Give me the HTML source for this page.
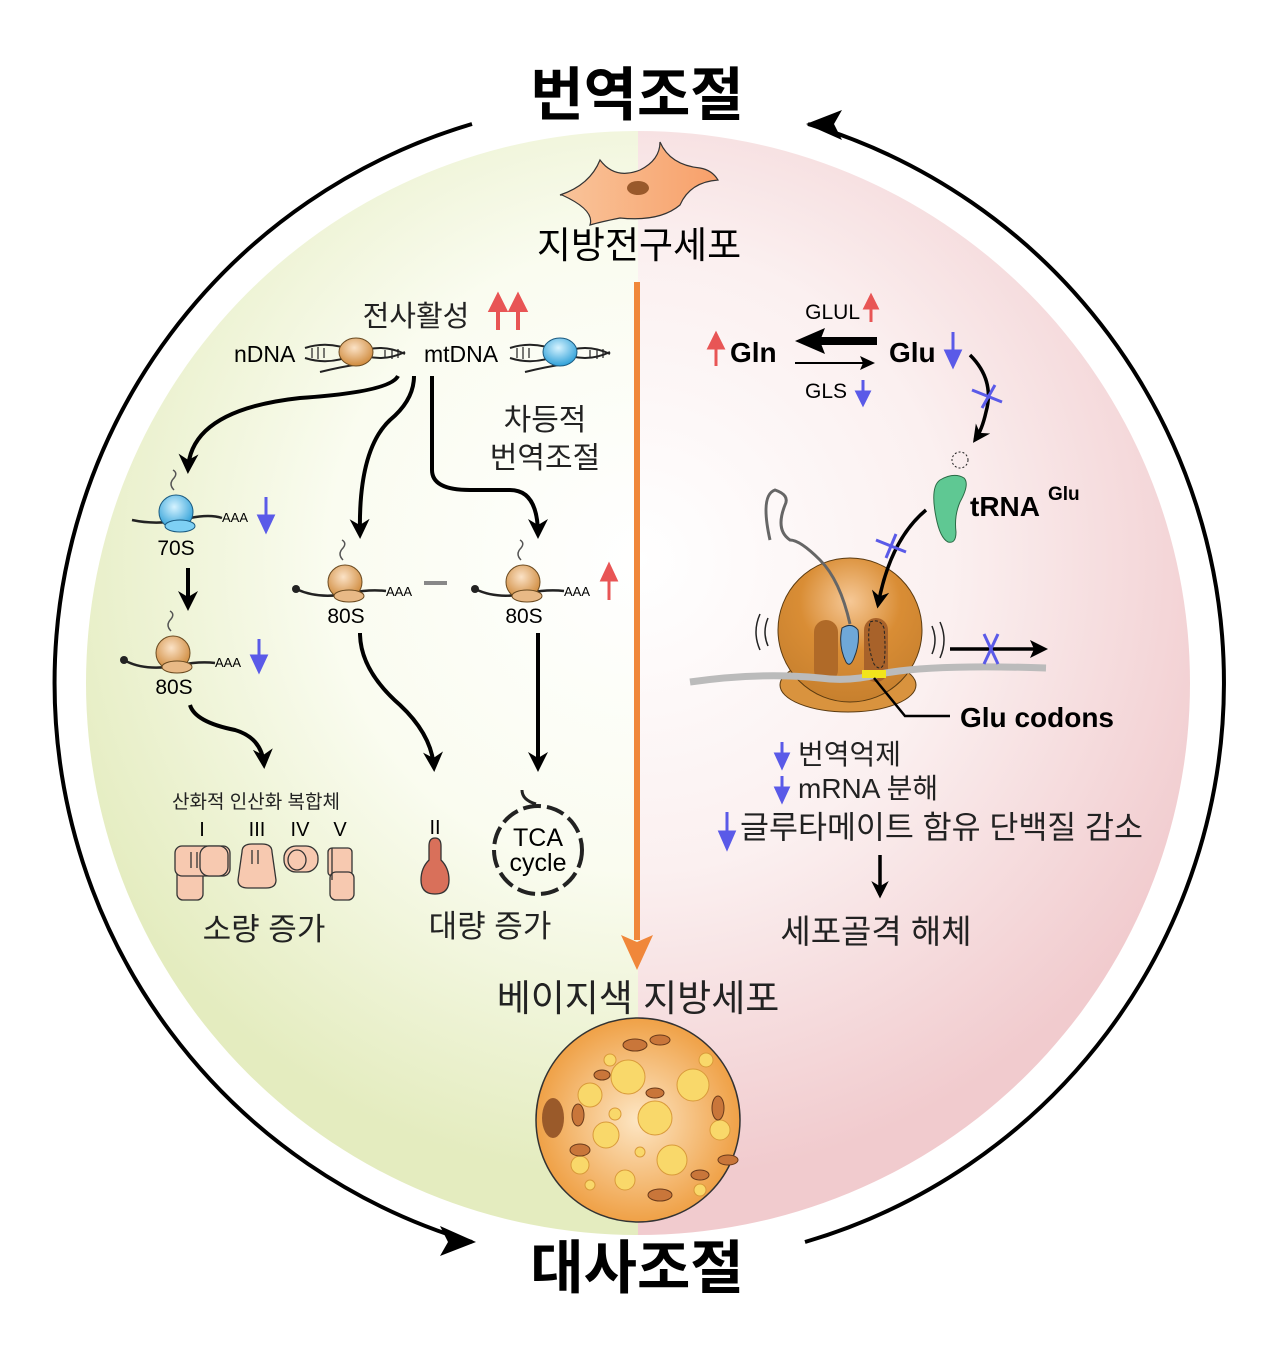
<!DOCTYPE html>
<html><head><meta charset="utf-8"><style>
html,body{margin:0;padding:0;background:#fff;}
svg{display:block;}
text{font-family:"Liberation Sans","Noto Sans CJK KR",sans-serif;}
</style></head><body>
<svg width="1274" height="1367" viewBox="0 0 1274 1367" xmlns="http://www.w3.org/2000/svg">
<defs>
<radialGradient id="gL" cx="640" cy="560" r="620" gradientUnits="userSpaceOnUse">
<stop offset="0" stop-color="#ffffff"/><stop offset="0.5" stop-color="#fafcf0"/><stop offset="1" stop-color="#e4ecbf"/></radialGradient>
<radialGradient id="gR" cx="640" cy="560" r="620" gradientUnits="userSpaceOnUse">
<stop offset="0" stop-color="#ffffff"/><stop offset="0.5" stop-color="#fbf0f0"/><stop offset="1" stop-color="#f1cbce"/></radialGradient>
<radialGradient id="rOr" cx="0.45" cy="0.35" r="0.65"><stop offset="0" stop-color="#fbe2c6"/><stop offset="1" stop-color="#cf8a3c"/></radialGradient>
<radialGradient id="rBl" cx="0.45" cy="0.35" r="0.65"><stop offset="0" stop-color="#d6f3ff"/><stop offset="1" stop-color="#2ea0d8"/></radialGradient>
<radialGradient id="bigR" cx="0.5" cy="0.3" r="0.7"><stop offset="0" stop-color="#f6c896"/><stop offset="0.5" stop-color="#d98d35"/><stop offset="1" stop-color="#c7802e"/></radialGradient>
<radialGradient id="fat" cx="0.5" cy="0.5" r="0.55"><stop offset="0" stop-color="#fde6c4"/><stop offset="1" stop-color="#ee9a3a"/></radialGradient>
<linearGradient id="cell" x1="0" y1="0" x2="1" y2="0"><stop offset="0" stop-color="#f9c49a"/><stop offset="1" stop-color="#f8a06a"/></linearGradient>
<marker id="ah" viewBox="0 0 10 10" refX="8" refY="5" markerWidth="5" markerHeight="5" orient="auto"><path d="M0,0 L10,5 L0,10 L3,5 z" fill="#000"/></marker>
<g id="ribo">
<path d="M-2,-22 q-6,-6 0,-12 q4,-5 -1,-8" stroke="#555" stroke-width="1.5" fill="none"/>
<circle cx="0" cy="0" r="17" fill="url(#rOr)" stroke="#6a4a20" stroke-width="1"/>
<ellipse cx="4" cy="14" rx="15" ry="6" fill="#e8b986" stroke="#6a4a20" stroke-width="1"/>
</g>
<g id="riboB">
<path d="M-2,-22 q-6,-6 0,-12 q4,-5 -1,-8" stroke="#555" stroke-width="1.5" fill="none"/>
<circle cx="0" cy="0" r="17" fill="url(#rBl)" stroke="#1a5a80" stroke-width="1"/>
<ellipse cx="4" cy="14" rx="15" ry="6" fill="#7ed0f4" stroke="#1a5a80" stroke-width="1"/>
</g>
</defs>

<path d="M638,131 A552,552 0 0 0 638,1235 Z" fill="url(#gL)"/>
<path d="M638,131 A552,552 0 0 1 638,1235 Z" fill="url(#gR)"/>

<path d="M472,124 A583,583 0 0 0 472,1242" stroke="#000" stroke-width="4" fill="none"/>
<path d="M440,1226 L476,1242 L440,1256 L448,1242 z" fill="#000"/>
<path d="M805,1242 A583,583 0 0 0 808,124" stroke="#000" stroke-width="4" fill="none"/>
<path d="M842,110 L806,124 L842,140 L834,124 z" fill="#000"/>

<text x="637" y="115" font-size="58" font-weight="bold" text-anchor="middle">번역조절</text>
<text x="637" y="1288" font-size="58" font-weight="bold" text-anchor="middle">대사조절</text>

<path d="M560,195 Q590,185 600,160 Q615,180 640,170 Q660,160 660,142 Q670,165 700,168 Q712,170 718,180 Q690,182 680,205 Q660,222 620,218 Q600,222 590,225 Q595,210 562,195 z" fill="url(#cell)" stroke="#333" stroke-width="1.2"/>
<ellipse cx="638" cy="188" rx="11" ry="7" fill="#99592b"/>
<text x="639" y="258" font-size="37" text-anchor="middle">지방전구세포</text>

<line x1="637" y1="282" x2="637" y2="940" stroke="#f0873a" stroke-width="6"/>
<path d="M621,935 L637,970 L653,935 L637,942 z" fill="#f0873a"/>

<text x="416" y="326" font-size="29" text-anchor="middle" fill="#222">전사활성</text>
<g stroke="#e85555" stroke-width="4" fill="#e85555">
<line x1="498" y1="330" x2="498" y2="308"/><path d="M491,310 L498,296 L505,310 z"/>
<line x1="518" y1="330" x2="518" y2="308"/><path d="M511,310 L518,296 L525,310 z"/>
</g>
<text x="234" y="362" font-size="23">nDNA</text>
<text x="424" y="362" font-size="23">mtDNA</text>
<g stroke="#222" stroke-width="2" fill="none">
<path d="M305,348 q25,-8 50,4 q25,12 50,0"/><path d="M305,358 q25,8 50,-4 q25,-12 50,0"/>
<path d="M510,348 q25,-8 50,4 q25,12 50,0"/><path d="M510,358 q25,8 50,-4 q25,-12 50,0"/>
<path d="M320,372 q20,-5 40,-8"/><path d="M525,372 q20,-5 40,-8"/>
</g>
<g stroke="#222" stroke-width="1.2"><path d="M312,348 v10 M318,347 v12 M324,348 v10 M385,350 v8 M392,349 v10 M398,349 v9 M517,348 v10 M523,347 v12 M529,348 v10 M590,350 v8 M597,349 v10 M603,349 v9"/></g>
<ellipse cx="356" cy="352" rx="17" ry="14" fill="url(#rOr)" stroke="#6a4a20"/>
<ellipse cx="560" cy="352" rx="17" ry="14" fill="url(#rBl)" stroke="#1a5a80"/>

<g stroke="#000" stroke-width="4" fill="none">
<path d="M398,376 Q390,392 300,398 Q190,410 188,470" marker-end="url(#ah)"/>
<path d="M414,376 Q414,400 390,420 Q358,450 360,535" marker-end="url(#ah)"/>
<path d="M432,376 L432,470 Q432,490 470,490 L510,490 Q538,490 538,535" marker-end="url(#ah)"/>
<path d="M188,568 L188,607" marker-end="url(#ah)"/>
<path d="M190,705 Q195,722 235,730 Q262,738 264,765" marker-end="url(#ah)"/>
<path d="M360,633 Q360,670 400,705 Q432,735 434,768" marker-end="url(#ah)"/>
<path d="M538,633 L538,768" marker-end="url(#ah)"/>
</g>

<text x="545" y="430" font-size="30" text-anchor="middle" fill="#222">차등적</text>
<text x="545" y="468" font-size="30" text-anchor="middle" fill="#222">번역조절</text>

<path d="M132,520 Q160,526 190,518 Q210,514 222,518" stroke="#222" stroke-width="2.5" fill="none"/>
<use href="#riboB" x="176" y="512"/>
<text x="222" y="522" font-size="13">AAA</text>
<text x="176" y="555" font-size="21" text-anchor="middle">70S</text>
<g fill="#5a5ae8" stroke="#5a5ae8" stroke-width="3"><line x1="266" y1="497" x2="266" y2="520"/><path d="M259,516 L266,531 L273,516 z"/></g>

<circle cx="124" cy="660" r="4" fill="#222"/>
<path d="M124,660 Q145,672 180,665 Q200,661 215,663" stroke="#222" stroke-width="2.5" fill="none"/>
<use href="#ribo" x="173" y="653"/>
<text x="215" y="667" font-size="13">AAA</text>
<text x="174" y="694" font-size="21" text-anchor="middle">80S</text>
<g fill="#5a5ae8" stroke="#5a5ae8" stroke-width="3"><line x1="259" y1="639" x2="259" y2="660"/><path d="M252,656 L259,671 L266,656 z"/></g>

<circle cx="296" cy="589" r="4" fill="#222"/>
<path d="M296,589 Q320,600 350,593 Q370,589 386,591" stroke="#222" stroke-width="2.5" fill="none"/>
<use href="#ribo" x="345" y="582"/>
<text x="386" y="596" font-size="13">AAA</text>
<text x="346" y="623" font-size="21" text-anchor="middle">80S</text>
<line x1="424" y1="583" x2="447" y2="583" stroke="#888" stroke-width="4"/>

<circle cx="475" cy="589" r="4" fill="#222"/>
<path d="M475,589 Q498,600 528,593 Q548,589 564,591" stroke="#222" stroke-width="2.5" fill="none"/>
<use href="#ribo" x="523" y="582"/>
<text x="564" y="596" font-size="13">AAA</text>
<text x="524" y="623" font-size="21" text-anchor="middle">80S</text>
<g fill="#e85555" stroke="#e85555" stroke-width="3"><line x1="609" y1="600" x2="609" y2="577"/><path d="M602,580 L609,565 L616,580 z"/></g>

<text x="256" y="808" font-size="19" text-anchor="middle" fill="#222">산화적 인산화 복합체</text>
<text x="202" y="836" font-size="20" text-anchor="middle">I</text>
<text x="257" y="836" font-size="20" text-anchor="middle">III</text>
<text x="300" y="836" font-size="20" text-anchor="middle">IV</text>
<text x="340" y="836" font-size="20" text-anchor="middle">V</text>
<g fill="#f7c9b0" stroke="#333" stroke-width="1.3">
<rect x="177" y="865" width="26" height="35" rx="6"/>
<rect x="175" y="846" width="55" height="30" rx="7"/>
<rect x="200" y="846" width="28" height="30" rx="9"/>
<path d="M242,852 q0,-8 10,-8 h10 q10,0 10,8 l4,28 q0,8 -10,8 h-18 q-10,0 -10,-8 z"/>
<rect x="284" y="846" width="34" height="26" rx="12"/>
<ellipse cx="297" cy="860" rx="9" ry="10" fill="none"/>
<rect x="328" y="848" width="24" height="28" rx="4"/>
<rect x="330" y="872" width="24" height="28" rx="6"/>
<path d="M191,852 v16 M197,852 v16 M252,850 v14 M258,850 v14 M332,848 v32"/>
</g>
<path d="M429,846 q0,-8 6,-8 q6,0 6,8 v14 q8,8 8,20 q0,14 -14,14 q-14,0 -14,-14 q0,-12 8,-20 z" fill="#d9705a" stroke="#333" stroke-width="1.3"/>
<text x="435" y="834" font-size="20" text-anchor="middle">II</text>
<circle cx="538" cy="850" r="44" fill="none" stroke="#222" stroke-width="4" stroke-dasharray="18 6"/>
<path d="M522,790 q0,10 14,14" stroke="#222" stroke-width="3" fill="none"/>
<text x="538" y="846" font-size="25" text-anchor="middle">TCA</text>
<text x="538" y="871" font-size="25" text-anchor="middle">cycle</text>
<text x="264" y="940" font-size="31" text-anchor="middle" fill="#222">소량 증가</text>
<text x="490" y="937" font-size="31" text-anchor="middle" fill="#222">대량 증가</text>

<!-- right -->
<text x="860" y="319" font-size="21" text-anchor="end">GLUL</text>
<g fill="#e85555" stroke="#e85555" stroke-width="3"><line x1="871" y1="322" x2="871" y2="305"/><path d="M865,308 L871,296 L877,308 z"/></g>
<g fill="#e85555" stroke="#e85555" stroke-width="3"><line x1="716" y1="366" x2="716" y2="345"/><path d="M709,348 L716,334 L723,348 z"/></g>
<text x="730" y="362" font-size="28" font-weight="bold">Gln</text>
<text x="889" y="362" font-size="28" font-weight="bold">Glu</text>
<g fill="#5a5ae8" stroke="#5a5ae8" stroke-width="3"><line x1="953" y1="332" x2="953" y2="355"/><path d="M946,351 L953,366 L960,351 z"/></g>
<rect x="815" y="337" width="62" height="8" fill="#000"/><path d="M795,341 L825,328 L820,341 L825,354 z" fill="#000"/>
<line x1="795" y1="363" x2="870" y2="363" stroke="#000" stroke-width="2"/><path d="M875,363 L860,356 L863,363 L860,370 z" fill="#000"/>
<text x="826" y="398" font-size="21" text-anchor="middle">GLS</text>
<g fill="#5a5ae8" stroke="#5a5ae8" stroke-width="3"><line x1="863" y1="380" x2="863" y2="395"/><path d="M857,392 L863,404 L869,392 z"/></g>
<path d="M970,355 Q995,380 986,412 Q982,430 975,440" stroke="#000" stroke-width="3.5" fill="none" marker-end="url(#ah)"/>
<g stroke="#5a5ae8" stroke-width="3"><line x1="972" y1="390" x2="1002" y2="402"/><line x1="982" y1="408" x2="995" y2="385"/></g>
<circle cx="960" cy="460" r="8" fill="none" stroke="#222" stroke-dasharray="2 2"/>
<path d="M940,480 q14,-8 24,-2 q6,6 -4,24 q-6,14 -4,30 q0,12 -8,10 q-8,-4 -12,-25 q-6,-30 4,-37 z" fill="#5fc893" stroke="#2a6a45" stroke-width="1"/>
<text x="970" y="516" font-size="28" font-weight="bold">tRNA</text>
<text x="1048" y="500" font-size="19" font-weight="bold">Glu</text>
<!-- big ribosome -->
<ellipse cx="848" cy="685" rx="68" ry="27" fill="#d9933e" stroke="#5a3a10" stroke-width="1"/>
<circle cx="850" cy="630" r="72" fill="url(#bigR)" stroke="#5a3a10" stroke-width="1"/>
<rect x="814" y="620" width="24" height="62" rx="12" fill="#b06a28"/>
<rect x="864" y="618" width="24" height="64" rx="12" fill="#a8622a"/>
<path d="M870,622 q10,-4 14,6 q2,20 0,36 q-4,8 -10,0 q-8,-20 -4,-42 z" fill="none" stroke="#222" stroke-dasharray="3 2"/>
<path d="M842,628 q10,-6 16,2 q2,14 -4,28 q-4,10 -8,4 q-8,-16 -4,-34 z" fill="#6fa8d8" stroke="#234"/>
<path d="M850,624 Q840,580 820,560 Q800,540 790,540 Q775,530 785,505 Q790,495 775,490 Q760,495 770,540" stroke="#666" stroke-width="3" fill="none"/>
<path d="M926,510 Q890,540 878,605" stroke="#000" stroke-width="3.5" fill="none" marker-end="url(#ah)"/>
<g stroke="#5a5ae8" stroke-width="3"><line x1="876" y1="540" x2="906" y2="552"/><line x1="886" y1="558" x2="896" y2="534"/></g>
<path d="M690,682 Q760,672 820,678 Q850,682 880,674 Q930,664 1046,668" stroke="#bbb" stroke-width="7" fill="none"/>
<rect x="862" y="670" width="24" height="8" fill="#f2e51c"/>
<path d="M874,678 L905,716 L950,716" stroke="#000" stroke-width="2.5" fill="none"/>
<text x="960" y="727" font-size="28" font-weight="bold">Glu codons</text>
<g stroke="#222" stroke-width="1.5" fill="none">
<path d="M768,618 q-6,14 0,28"/><path d="M760,614 q-8,18 0,36"/>
<path d="M932,626 q6,14 0,28"/><path d="M940,622 q8,18 0,36"/>
</g>
<line x1="950" y1="649" x2="1035" y2="649" stroke="#000" stroke-width="3.5"/><path d="M1048,649 L1030,640 L1034,649 L1030,658 z" fill="#000"/>
<g stroke="#5a5ae8" stroke-width="3"><line x1="984" y1="634" x2="998" y2="664"/><line x1="998" y1="634" x2="984" y2="664"/></g>

<g fill="#5a5ae8" stroke="#5a5ae8" stroke-width="3">
<line x1="782" y1="742" x2="782" y2="757"/><path d="M776,754 L782,767 L788,754 z"/>
<line x1="782" y1="776" x2="782" y2="791"/><path d="M776,788 L782,801 L788,788 z"/>
<line x1="727" y1="812" x2="727" y2="836"/><path d="M720,832 L727,848 L734,832 z"/>
</g>
<text x="798" y="764" font-size="28" fill="#222">번역억제</text>
<text x="798" y="798" font-size="28" fill="#222">mRNA 분해</text>
<text x="740" y="838" font-size="31.5" fill="#222">글루타메이트 함유 단백질 감소</text>
<line x1="880" y1="855" x2="880" y2="895" stroke="#000" stroke-width="3.5" marker-end="url(#ah)"/>
<text x="876" y="943" font-size="33" text-anchor="middle" fill="#222">세포골격 해체</text>

<text x="638" y="1011" font-size="37" text-anchor="middle" fill="#222">베이지색 지방세포</text>
<circle cx="638" cy="1120" r="102" fill="url(#fat)" stroke="#333" stroke-width="1.5"/>
<ellipse cx="553" cy="1118" rx="11" ry="20" fill="#9a5a2a"/>
<g fill="#f9d86a" stroke="#d99a3a" stroke-width="1">
<circle cx="628" cy="1077" r="17"/><circle cx="590" cy="1095" r="12"/><circle cx="693" cy="1085" r="16"/>
<circle cx="655" cy="1118" r="17"/><circle cx="606" cy="1135" r="13"/><circle cx="672" cy="1160" r="15"/>
<circle cx="720" cy="1130" r="10"/><circle cx="580" cy="1165" r="9"/><circle cx="625" cy="1180" r="10"/>
<circle cx="706" cy="1060" r="7"/><circle cx="615" cy="1114" r="6"/><circle cx="640" cy="1152" r="5"/>
<circle cx="590" cy="1185" r="5"/><circle cx="610" cy="1060" r="6"/><circle cx="700" cy="1190" r="6"/>
</g>
<g fill="#c9763a" stroke="#6a3a1a" stroke-width="1">
<ellipse cx="635" cy="1045" rx="12" ry="6"/><ellipse cx="660" cy="1040" rx="10" ry="5"/>
<ellipse cx="718" cy="1108" rx="6" ry="12"/><ellipse cx="728" cy="1160" rx="10" ry="5"/>
<ellipse cx="578" cy="1115" rx="6" ry="11"/><ellipse cx="580" cy="1150" rx="10" ry="6"/>
<ellipse cx="660" cy="1195" rx="12" ry="6"/><ellipse cx="700" cy="1175" rx="9" ry="5"/>
<ellipse cx="602" cy="1075" rx="8" ry="5"/><ellipse cx="655" cy="1093" rx="9" ry="5"/>
</g>
</svg>
</body></html>
